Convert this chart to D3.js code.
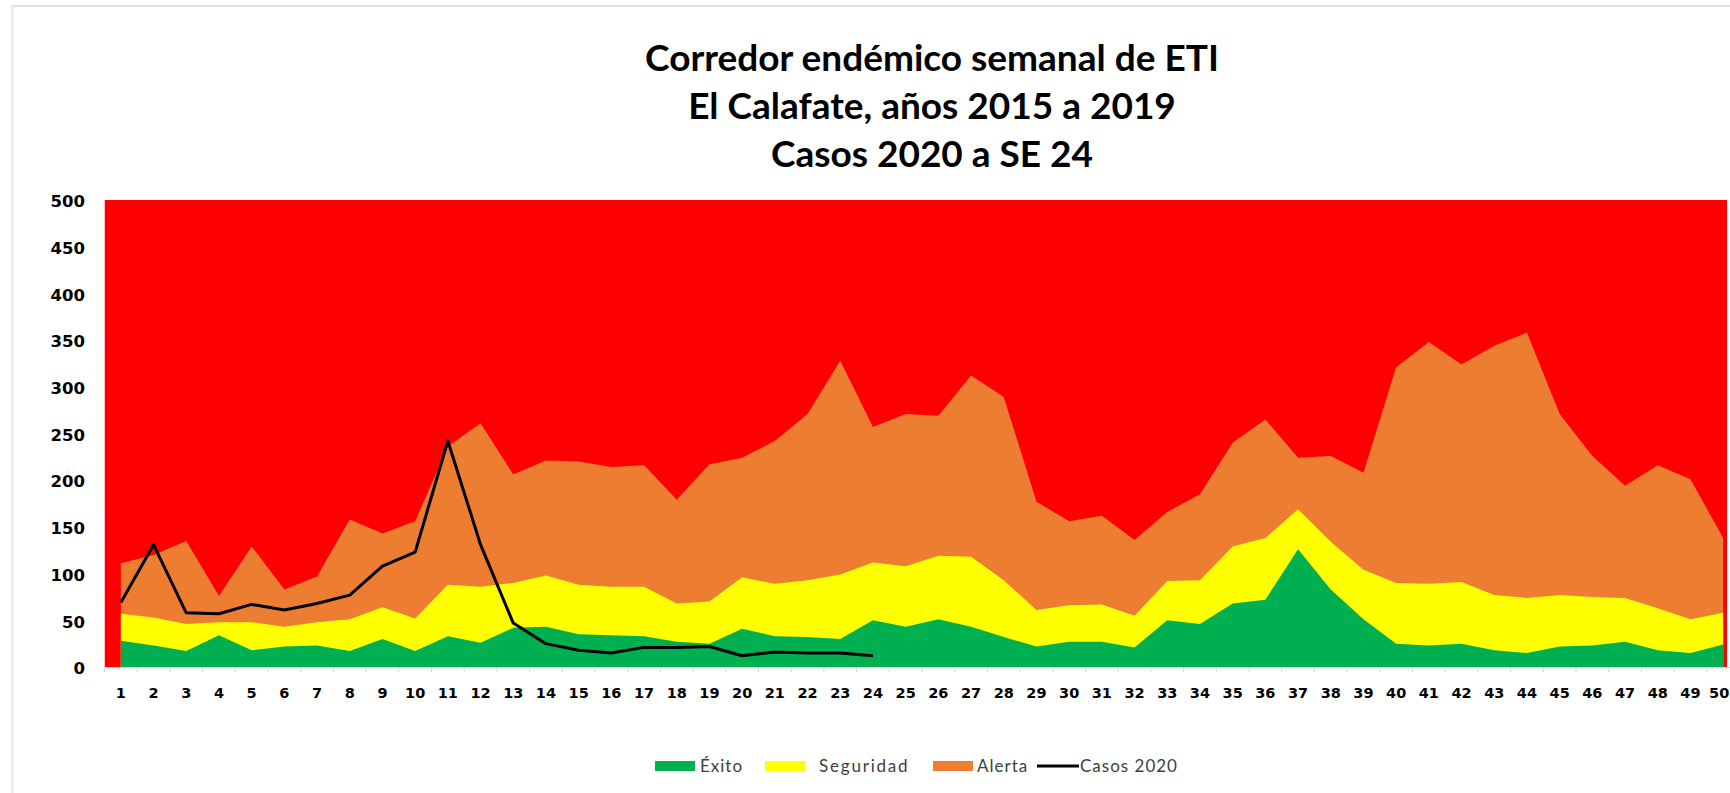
<!DOCTYPE html>
<html>
<head>
<meta charset="utf-8">
<script src="https://cdn.jsdelivr.net/npm/d3@7"></script>
<style>
  body { margin: 0; background: #fff; }
  svg { display: block; }
</style>
</head>
<body>
<div id="chart"></div>
<script>
const weeks = d3.range(1, 51);

// upper limit of each zone (cases per week)
const exito = [28,23,17,34,18,22,23,17,30,17,33,26,42,43,35,34,33,27,25,41,33,32,30,50,43,51,43,32,22,27,27,21,50,46,68,72,126,83,51,25,23,25,18,15,22,23,27,18,15,24];
const seguridad = [57,53,46,48,48,43,48,51,64,52,88,86,90,98,88,86,86,68,70,96,89,93,99,112,108,119,118,93,61,66,67,55,92,93,129,138,169,134,104,90,89,91,77,74,77,75,74,63,51,58];
const alerta = [111,120,135,76,129,83,97,158,143,156,236,261,206,221,220,214,216,179,217,224,242,271,328,257,271,269,312,289,177,156,162,136,166,185,240,265,224,226,208,321,348,324,344,358,271,226,194,216,201,138];
const casos2020 = [69,131,58,57,67,61,68,77,108,123,242,131,47,25,18,15,21,21,22,12,16,15,15,12];

const yTicks = d3.range(0, 501, 50);
const titleLines = ["Corredor endémico semanal de ETI", "El Calafate, años 2015 a 2019", "Casos 2020 a SE 24"];

const zones = [
    { name: "Alerta", values: alerta, color: "#ed7d31" },
    { name: "Seguridad", values: seguridad, color: "#ffff00" },
    { name: "Éxito", values: exito, color: "#00b050" }
];

const width = 1730;
const height = 793;

const svg = d3.select("#chart")
    .append("svg")
    .attr("width", width)
    .attr("height", height);

// outer frame (cut off on the right and bottom like the source image)
svg.append("rect")
    .attr("x", 12.5)
    .attr("y", 6)
    .attr("width", width + 20)
    .attr("height", height + 20)
    .attr("fill", "none")
    .attr("stroke", "#e4e4e4")
    .attr("stroke-width", 2);

const x = d3.scaleBand()
    .domain(weeks)
    .range([104.5, 104.5 + 50 * 32.7]);

const y = d3.scaleLinear()
    .domain([0, 500])
    .range([667, 200]);

const cx = w => x(w) + x.bandwidth() / 2;

svg.append("clipPath")
    .attr("id", "plot-clip")
    .append("rect")
    .attr("x", x.range()[0])
    .attr("y", y(500))
    .attr("width", 1727 - x.range()[0])
    .attr("height", y(0) - y(500));

const plot = svg.append("g").attr("clip-path", "url(#plot-clip)");

// epidemic zone = plot background
plot.append("rect")
    .attr("x", x.range()[0])
    .attr("y", y(500))
    .attr("width", x.range()[1] - x.range()[0])
    .attr("height", y(0) - y(500))
    .attr("fill", "#ff0000");

const area = d3.area()
    .x((d, i) => cx(weeks[i]))
    .y0(y(0))
    .y1(d => y(d));

plot.selectAll(".zone")
    .data(zones)
    .enter()
    .append("path")
    .attr("class", "zone")
    .attr("d", d => area(d.values))
    .attr("fill", d => d.color);

const line = d3.line()
    .x((d, i) => cx(weeks[i]))
    .y(d => y(d));

plot.append("path")
    .attr("d", line(casos2020))
    .attr("fill", "none")
    .attr("stroke", "#000")
    .attr("stroke-width", 3)
    .attr("stroke-linejoin", "round");

// y axis
const yAxis = d3.axisLeft(y)
    .tickValues(yTicks)
    .tickSize(0)
    .tickPadding(0);

svg.append("g")
    .attr("transform", "translate(85,1.5)")
    .call(yAxis)
    .call(g => g.select(".domain").remove())
    .selectAll("text")
    .attr("font-family", "DejaVu Sans")
    .attr("font-weight", "bold")
    .attr("font-size", 16.5)
    .attr("fill", "#000");

// x axis
const xAxis = d3.axisBottom(x)
    .tickSize(0)
    .tickPadding(21);

svg.append("g")
    .attr("transform", `translate(0,${y(0)})`)
    .call(xAxis)
    .call(g => g.select(".domain").attr("stroke", "#d9d9d9"))
    .selectAll("text")
    .attr("font-family", "DejaVu Sans")
    .attr("font-weight", "bold")
    .attr("font-size", 14.5)
    .attr("fill", "#000")
    // last label sits at the picture's edge; nudge it inside
    .attr("dx", d => d === 50 ? -4 : 0);

svg.append("g")
    .selectAll("line")
    .data(weeks)
    .enter()
    .append("line")
    .attr("x1", d => x(d))
    .attr("x2", d => x(d))
    .attr("y1", y(0))
    .attr("y2", y(0) + 5)
    .attr("stroke", "#d9d9d9");

// title
svg.append("g")
    .selectAll("text")
    .data(titleLines)
    .enter()
    .append("text")
    .attr("x", 932)
    .attr("y", (d, i) => 71 + i * 48)
    .attr("text-anchor", "middle")
    .attr("font-family", "Lato")
    .attr("font-weight", "bold")
    .attr("font-size", 37)
    .attr("fill", "#000")
    .text(d => d);

// legend
const legendItems = [
    { name: "Éxito", color: "#00b050", type: "rect", x: 655, tx: 700, ls: 1 },
    { name: "Seguridad", color: "#ffff00", type: "rect", x: 765, tx: 819, ls: 1.8 },
    { name: "Alerta", color: "#ed7d31", type: "rect", x: 933, tx: 977, ls: 1 },
    { name: "Casos 2020", color: "#000", type: "line", x: 1037, tx: 1080, ls: 1 }
];

const legend = svg.append("g");
const legendY = 766;

legendItems.forEach(item => {
    if (item.type === "rect") {
        legend.append("rect")
            .attr("x", item.x)
            .attr("y", legendY - 5)
            .attr("width", 40)
            .attr("height", 10)
            .attr("fill", item.color);
    } else {
        legend.append("line")
            .attr("x1", item.x)
            .attr("x2", item.x + 42)
            .attr("y1", legendY)
            .attr("y2", legendY)
            .attr("stroke", item.color)
            .attr("stroke-width", 3);
    }
    legend.append("text")
        .attr("x", item.tx)
        .attr("y", legendY + 6)
        .attr("font-family", "Lato")
        .attr("font-size", 17)
        .attr("letter-spacing", item.ls)
        .attr("fill", "#404040")
        .text(item.name);
});
</script>
</body>
</html>
